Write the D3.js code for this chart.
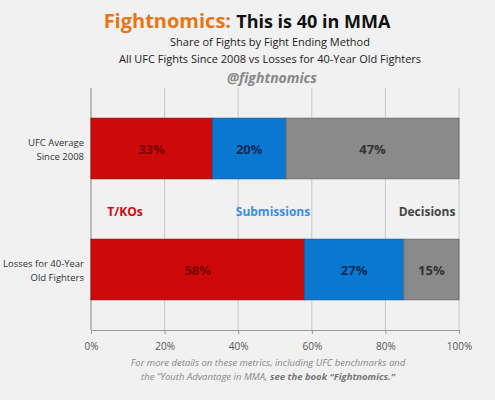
<!DOCTYPE html><html><head><meta charset="utf-8">
<script src="https://cdn.jsdelivr.net/npm/d3@7"></script>
<style>body{margin:0;background:#f1f1f1;font-family:"Open Sans",sans-serif}</style></head><body>
<svg id="c" width="495" height="400"></svg>
<script>
const categories=["UFC Average\nSince 2008","Losses for 40-Year\nOld Fighters"];
const seriesNames=["T/KOs","Submissions","Decisions"];
const tko=[33,58], sub=[20,27], dec=[47,15];
const ticks=[0,20,40,60,80,100];
const colors=["#cc0a0a","#0a78d0","#8a8a8a"];
const labelColors=["#cc0a0a","#3a8ee0","#444"];
const textColors=["#7a0000","#0a2a55","#333"];
const svg=d3.select("#c");
const x=d3.scaleLinear().domain([0,100]).range([91,459]);
const y=d3.scaleBand().domain(categories).range([88,330]).paddingInner(0.5).paddingOuter(0.25);

const t=svg.append("text").attr("x",247).attr("y",28).attr("text-anchor","middle").attr("font-size",20).attr("font-weight","bold");
t.append("tspan").attr("fill","#e87511").text("Fightnomics: ");
t.append("tspan").attr("fill","#111").attr("font-size",18).text("This is 40 in MMA");
svg.append("text").attr("x",270).attr("y",46).attr("text-anchor","middle").attr("font-size",11).attr("fill","#222").text("Share of Fights by Fight Ending Method");
svg.append("text").attr("x",270).attr("y",63).attr("text-anchor","middle").attr("font-size",11).attr("fill","#222").text("All UFC Fights Since 2008 vs Losses for 40-Year Old Fighters");
svg.append("text").attr("x",272).attr("y",83).attr("text-anchor","middle").attr("font-size",14).attr("font-weight","bold").attr("font-style","italic").attr("fill","#888").text("@fightnomics");

// grid
svg.append("g").selectAll("line").data(ticks).join("line")
 .attr("x1",d=>x(d)).attr("x2",d=>x(d)).attr("y1",88).attr("y2",330).attr("stroke","#c8c8c8");
const ax=svg.append("g").attr("transform","translate(0,330)").call(d3.axisBottom(x).tickValues(ticks).tickFormat(d=>d+"%").tickSize(4));
ax.select(".domain").attr("stroke","#999");
ax.selectAll(".tick line").attr("stroke","#999");
ax.selectAll("text").attr("font-size",10).attr("fill","#555").attr("font-family","Open Sans").attr("dy","1.3em");
svg.append("line").attr("x1",91).attr("x2",91).attr("y1",88).attr("y2",330).attr("stroke","#999");

const rows=categories.map((c,i)=>[tko[i],sub[i],dec[i]]);
rows.forEach((vals,i)=>{
  let acc=0;
  const g=svg.append("g");
  vals.forEach((v,j)=>{
    const x0=x(acc), x1=x(acc+v);
    g.append("rect").attr("x",x0).attr("y",y(categories[i])).attr("width",x1-x0).attr("height",y.bandwidth())
     .attr("fill",colors[j]).attr("stroke",d3.color(colors[j]).darker(0.6)).attr("stroke-width",1);
    g.append("text").attr("x",(x0+x1)/2).attr("y",y(categories[i])+y.bandwidth()/2+5).attr("text-anchor","middle")
     .attr("font-size",13).attr("font-weight","bold").attr("fill",textColors[j]).text(v+"%");
    acc+=v;
  });
  const lines=categories[i].split("\n");
  lines.forEach((l,k)=>svg.append("text").attr("x",84).attr("y",y(categories[i])+y.bandwidth()/2-3+k*14)
    .attr("text-anchor","end").attr("font-size",9.5).attr("fill","#333").text(l));
});
// legend labels
const lx=[125,273,427];
seriesNames.forEach((s,j)=>svg.append("text").attr("x",lx[j]).attr("y",216).attr("text-anchor","middle")
  .attr("font-size",12).attr("font-weight","bold").attr("fill",labelColors[j]).text(s));

svg.append("text").attr("x",268).attr("y",366).attr("text-anchor","middle").attr("font-size",9.5).attr("font-style","italic").attr("fill","#888")
 .text("For more details on these metrics, including UFC benchmarks and");
const f=svg.append("text").attr("x",268).attr("y",380).attr("text-anchor","middle").attr("font-size",9.5).attr("font-style","italic").attr("fill","#888");
f.append("tspan").text("the \u201cYouth Advantage in MMA, ");
f.append("tspan").attr("font-weight","bold").attr("fill","#777").text("see the book \u201cFightnomics.\u201d");
</script></body></html>
